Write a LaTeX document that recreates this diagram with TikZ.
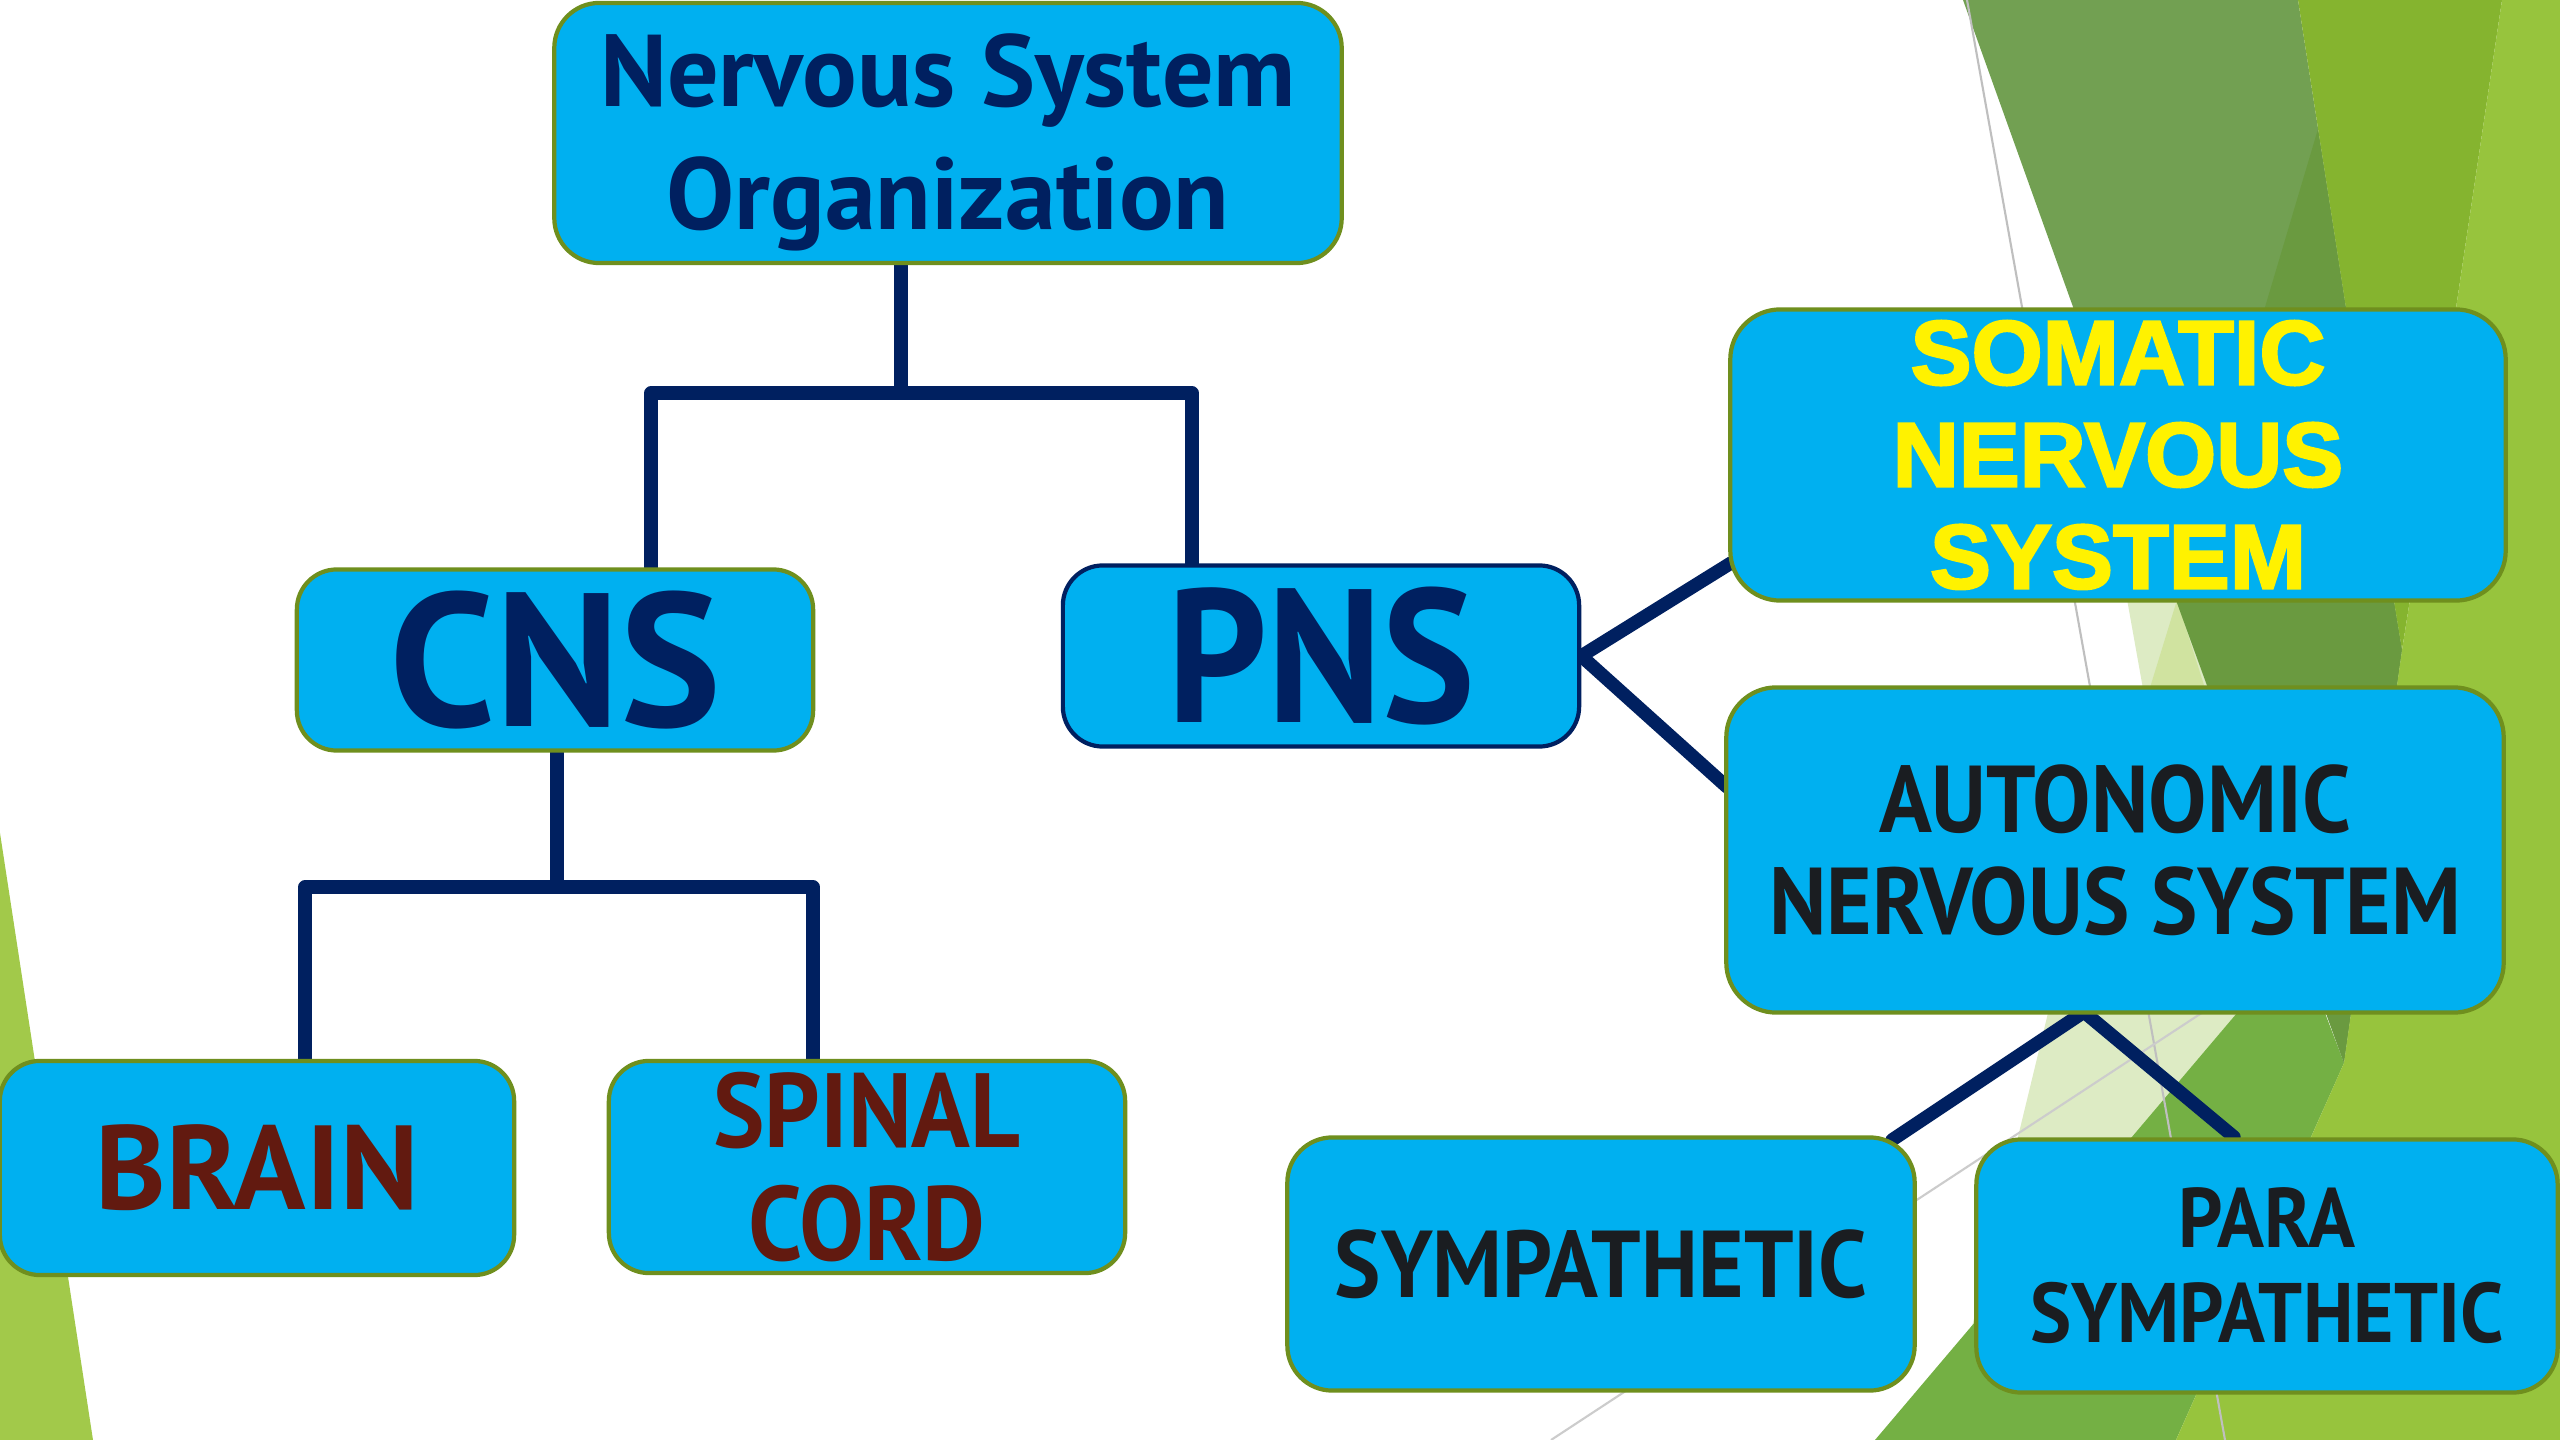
\documentclass[tikz,border=0pt]{standalone}
\usepackage{xcolor}
\usepackage{fontspec}
\setmainfont{PT Sans}[FakeStretch=0.92]
\newfontfamily\widefont{PT Sans}
\newfontfamily\heavyfont{Liberation Sans}[FakeBold=2.5]
\definecolor{boxblue}{HTML}{00B0F0}
\definecolor{boxrim}{HTML}{6F8F1E}
\definecolor{linknavy}{HTML}{002060}
\definecolor{rust}{HTML}{621A10}
\definecolor{ink}{HTML}{1A1D21}
\definecolor{leafleft}{HTML}{A2C94A}
\definecolor{leafpale}{HTML}{DDEBC4}
\definecolor{leaflight}{HTML}{D0E3A0}
\definecolor{leafmid}{HTML}{74B044}
\definecolor{leafmuted}{HTML}{72A052}
\definecolor{leafdark}{HTML}{6A9A40}
\definecolor{leafbright}{HTML}{85B42F}
\definecolor{leaflime}{HTML}{97C43D}
\newcommand{\lowered}[1]{\raisebox{-0.09cm}[\height][\depth]{#1}}
\pgfdeclarelayer{leaves}
\pgfdeclarelayer{links}
\pgfsetlayers{leaves,links,main}
\tikzset{
  box/.style={draw=boxrim,line width=1.2pt,fill=boxblue,rounded corners=0.4cm,align=center,inner sep=0pt},
  link/.style={draw=linknavy,line width=3.8pt,line cap=round,line join=round},
}

\begin{document}
\begin{tikzpicture}[x=0.01cm,y=-0.01cm]
\useasboundingbox (0,0) rectangle (2560,1440);
\begin{pgfonlayer}{leaves}
\fill[white] (0,0) rectangle (2560,1440);
\fill[leafleft] (0,833)--(93,1440)--(0,1440)--cycle;
\fill[leafpale] (2120,560)--(2145,700)--(2048,1013)--(1970,1335)--(2237,1013)--(2300,1013)--(2200,560)--cycle;
\fill[leaflight] (2177,600)--(2140,720)--(2215,720)--cycle;
\fill[leafmid] (1875,1440)--(2237,1013)--(2325,1013)--(2344,1063)--(2176,1440)--cycle;
\fill[leafmuted] (1963,0)--(2298,0)--(2346,308)--(2402,650)--(2344,1063)--cycle;
\fill[leafdark] (2318,129)--(2346,308)--(2402,650)--(2344,1063)--(2177,603)--cycle;
\fill[leafbright] (2298,0)--(2502,0)--(2456,308)--(2402,650)--(2346,308)--cycle;
\fill[leaflime] (2502,0)--(2560,0)--(2560,1440)--(2176,1440)--(2344,1063)--(2402,650)--(2456,308)--cycle;
\draw[black!25,line width=0.6pt] (1967,0)--(2225,1440);
\draw[black!20,line width=0.6pt] (2290,955)--(1551,1440);
\end{pgfonlayer}

% boxes
\node[box,minimum width=7.87cm,minimum height=2.6cm,rounded corners=0.45cm,text=linknavy,font=\widefont\bfseries\fontsize{29}{35}\selectfont] (org) at (948,133) {\lowered{Nervous System}\\\lowered{Organization}};
\node[box,minimum width=5.16cm,minimum height=1.81cm,text=linknavy,font=\widefont\bfseries\fontsize{54}{60}\selectfont] (cns) at (555,660) {CNS};
\node[box,draw=linknavy,minimum width=5.16cm,minimum height=1.81cm,text=linknavy,font=\bfseries\fontsize{54}{60}\selectfont] (pns) at (1321,656) {PNS};
\node[box,minimum width=5.14cm,minimum height=2.14cm,text=rust,font=\widefont\bfseries\fontsize{34}{40}\selectfont] (brain) at (257,1168) {BRAIN};
\node[box,minimum width=5.16cm,minimum height=2.12cm,text=rust,font=\bfseries\fontsize{30}{32}\selectfont] (spinal) at (867,1167) {SPINAL\\CORD};
\node[box,minimum width=7.75cm,minimum height=2.91cm,rounded corners=0.5cm,text=yellow,font=\heavyfont\bfseries\fontsize{26}{29}\selectfont] (somatic) at (2118,455) {SOMATIC\\NERVOUS\\SYSTEM};
\node[box,minimum width=7.77cm,minimum height=3.25cm,rounded corners=0.5cm,text=ink,font=\bfseries\fontsize{27}{29}\selectfont] (auto) at (2115,850) {AUTONOMIC\\NERVOUS SYSTEM};
\node[box,minimum width=6.27cm,minimum height=2.53cm,rounded corners=0.45cm,text=ink,font=\bfseries\fontsize{27}{29}\selectfont] (symp) at (1601,1264) {SYMPATHETIC};
\node[box,minimum width=5.81cm,minimum height=2.53cm,rounded corners=0.45cm,text=ink,font=\bfseries\fontsize{24}{27}\selectfont] (para) at (2267,1266) {PARA\\SYMPATHETIC};

% connectors
\coordinate (split1) at (901,393);
\coordinate (cnsdrop) at (651,393);
\coordinate (pnsdrop) at (1192,393);
\coordinate (split2) at (557,887);
\coordinate (braindrop) at (305,887);
\coordinate (spinaldrop) at (813,887);
\coordinate (somaticin) at (1731,563);
\coordinate (autoin) at (1727,787);
\coordinate (autoout) at (2084,1012);
\coordinate (sympin) at (1892,1140);
\coordinate (parain) at (2234,1137);
\begin{pgfonlayer}{links}
\draw[link] (org.south -| split1) -- (split1);
\draw[link] (cns.north -| cnsdrop) -- (cnsdrop) -- (pnsdrop) -- (pnsdrop |- pns.north);
\draw[link] (cns.south -| split2) -- (split2);
\draw[link] (brain.north -| braindrop) -- (braindrop) -- (spinaldrop) -- (spinaldrop |- spinal.north);
\draw[link] (somaticin) -- (pns.east) -- (autoin);
\draw[link] (sympin) -- (autoout) -- (parain);
\end{pgfonlayer}
\end{tikzpicture}
\end{document}
